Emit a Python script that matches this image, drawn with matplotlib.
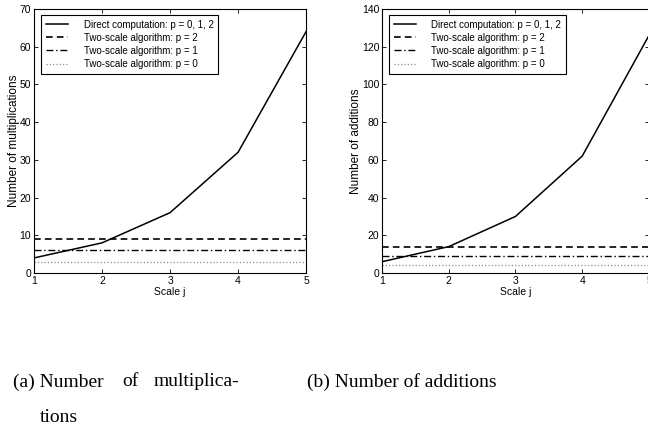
import numpy as np
from matplotlib import pyplot as plt

plt.rcParams['font.family'] = ['Liberation Sans Narrow', 'Liberation Sans', 'DejaVu Sans']

# ---------- Data
scale_j = [1, 2, 3, 4, 5]

mult_direct = [4, 8, 16, 32, 64]
mult_p2 = [9, 9, 9, 9, 9]
mult_p1 = [6, 6, 6, 6, 6]
mult_p0 = [3, 3, 3, 3, 3]

add_direct = [6, 14, 30, 62, 126]
add_p2 = [14, 14, 14, 14, 14]
add_p1 = [9, 9, 9, 9, 9]
add_p0 = [4, 4, 4, 4, 4]

labels = ['Direct computation: p = 0, 1, 2',
          'Two-scale algorithm: p = 2',
          'Two-scale algorithm: p = 1',
          'Two-scale algorithm: p = 0']

fig = plt.figure(figsize=(6.48, 4.29), dpi=100)

def panel(rect, direct, p2, p1, p0, ylabel, ymax, ystep):
	ax = fig.add_axes(rect)
	ax.plot(scale_j, direct, 'k-', lw=1.1, label=labels[0])
	ax.plot(scale_j, p2, 'k--', lw=1.2, dashes=(4, 2.5), label=labels[1])
	ax.plot(scale_j, p1, 'k-.', lw=1.0, dashes=(5, 2, 1, 2), label=labels[2])
	ax.plot(scale_j, p0, ':', color='0.55', lw=0.9, label=labels[3])
	ax.set_xlim(1, 5)
	ax.set_ylim(0, ymax)
	ax.set_xticks(scale_j)
	ax.set_yticks(np.arange(0, ymax + 1, ystep))
	ax.tick_params(direction='in', top=True, right=True, length=3, width=0.6,
				   labelsize=7.5, pad=2)
	for s in ax.spines.values():
		s.set_linewidth(0.8)
	ax.set_xlabel('Scale j', fontsize=7.5, labelpad=1)
	ax.set_ylabel(ylabel, fontsize=8.5, labelpad=0)
	leg = ax.legend(loc='upper left', bbox_to_anchor=(0.025, 0.978), fontsize=7,
					frameon=True, fancybox=False, edgecolor='k', framealpha=1,
					handlelength=2.3, handletextpad=1.6, labelspacing=0.32,
					borderpad=0.5, borderaxespad=0)
	leg.get_frame().set_linewidth(0.8)
	return ax

panel([0.0525, 0.3636, 0.4198, 0.6154], mult_direct, mult_p2, mult_p1, mult_p0,
	  'Number of multiplications', 70, 10)
panel([0.5895, 0.3636, 0.4120, 0.6154], add_direct, add_p2, add_p1, add_p0,
	  'Number of additions', 140, 20)

# ---------- Sub-captions
cap = dict(family=['Liberation Serif', 'DejaVu Serif'], fontsize=14, va='center')
fig.text(13 / 648, 1 - 382 / 429, '(a) Number', **cap)
fig.text(122 / 648, 1 - 382 / 429, 'of', **cap)
fig.text(154 / 648, 1 - 382 / 429, 'multiplica-', **cap)
fig.text(40 / 648, 1 - 418 / 429, 'tions', **cap)
fig.text(307 / 648, 1 - 382 / 429, '(b) Number of additions', **cap)

fig.savefig('out.png', dpi=100)
